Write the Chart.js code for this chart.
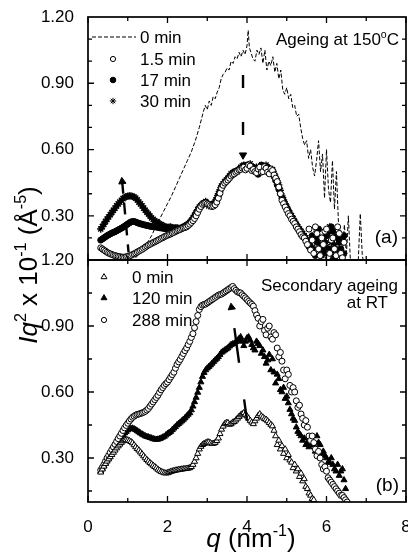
<!DOCTYPE html>
<html>
<head>
<meta charset="utf-8">
<script src="https://cdn.jsdelivr.net/npm/chart.js@4.4.1/dist/chart.umd.min.js"></script>
<style>
  html, body { margin: 0; padding: 0; background: #fff; overflow: hidden; }
  #wrap { position: relative; width: 408px; height: 553px; overflow: hidden; }
  #wrap canvas { position: absolute; left: 0; top: 0; }
</style>
</head>
<body>
<div id="wrap">
  <canvas id="panelB" width="420" height="553"></canvas>
  <canvas id="panelA" width="420" height="553"></canvas>
</div>
<script>
// shared q grid (nm^-1) for the marker series
const qGrid = [
  0.32, 0.36, 0.40, 0.44, 0.48, 0.52, 0.56, 0.60, 0.64, 0.68,
  0.72, 0.76, 0.80, 0.84, 0.88, 0.92, 0.96, 1.00, 1.04, 1.08,
  1.12, 1.16, 1.20, 1.24, 1.28, 1.32, 1.36, 1.40, 1.44, 1.48,
  1.52, 1.56, 1.60, 1.64, 1.68, 1.72, 1.76, 1.80, 1.84, 1.88,
  1.92, 1.96, 2.00, 2.04, 2.08, 2.12, 2.16, 2.20, 2.24, 2.28,
  2.32, 2.36, 2.40, 2.44, 2.48, 2.52, 2.56, 2.60, 2.64, 2.68,
  2.72, 2.76, 2.80, 2.84, 2.88, 2.92, 2.96, 3.00, 3.04, 3.08,
  3.12, 3.16, 3.20, 3.24, 3.28, 3.32, 3.36, 3.40, 3.44, 3.48,
  3.52, 3.56, 3.60, 3.64, 3.68, 3.72, 3.76, 3.80, 3.84, 3.88,
  3.92, 3.96, 4.00, 4.04, 4.08, 4.12, 4.16, 4.20, 4.24, 4.28,
  4.32, 4.36, 4.40, 4.44, 4.48, 4.52, 4.56, 4.60, 4.64, 4.68,
  4.72, 4.76, 4.80, 4.84, 4.88, 4.92, 4.96, 5.00, 5.04, 5.08,
  5.12, 5.16, 5.20, 5.24, 5.28, 5.32, 5.36, 5.40, 5.44, 5.48,
  5.52, 5.56, 5.60, 5.64, 5.68, 5.72, 5.76, 5.80, 5.84, 5.88,
  5.92, 5.96, 6.00, 6.04, 6.08, 6.12, 6.16, 6.20, 6.24, 6.28,
  6.32, 6.36, 6.40, 6.44, 6.48, 6.52
];

// (a) ageing at 150 C
const qA0 = [
  1.10, 1.20, 1.30, 1.40, 1.50, 1.60, 1.70, 1.80, 1.90, 2.00,
  2.10, 2.20, 2.30, 2.40, 2.50, 2.60, 2.70, 2.80, 2.90, 2.95,
  3.00, 3.05, 3.10, 3.15, 3.20, 3.25, 3.30, 3.35, 3.40, 3.45,
  3.50, 3.55, 3.60, 3.65, 3.70, 3.75, 3.80, 3.85, 3.90, 3.95,
  4.00, 4.03, 4.06, 4.10, 4.15, 4.20, 4.25, 4.30, 4.35, 4.40,
  4.45, 4.50, 4.55, 4.60, 4.65, 4.70, 4.75, 4.80, 4.85, 4.90,
  4.95, 5.00, 5.05, 5.10, 5.15, 5.20, 5.25, 5.30, 5.35, 5.40,
  5.45, 5.50, 5.55, 5.60, 5.65, 5.70, 5.75, 5.80, 5.85, 5.90,
  5.95, 6.00, 6.05, 6.10, 6.15, 6.20, 6.25, 6.30, 6.35, 6.40,
  6.45, 6.50, 6.55, 6.60, 6.65, 6.70, 6.75, 6.80, 6.85, 6.90,
  6.95
];
const a0min = [
  0.09, 0.11, 0.13, 0.155, 0.18, 0.21, 0.25, 0.285, 0.32, 0.355,
  0.39, 0.43, 0.47, 0.51, 0.55, 0.59, 0.64, 0.70, 0.77, 0.80,
  0.78, 0.82, 0.80, 0.84, 0.83, 0.86, 0.88, 0.92, 0.94, 0.95,
  0.97, 0.96, 1.00, 0.99, 1.02, 1.01, 1.04, 1.02, 1.05, 1.03,
  1.07, 1.14, 1.06, 1.04, 1.01, 1.00, 1.05, 1.03, 1.06, 0.99,
  1.05, 0.96, 1.00, 0.98, 1.02, 0.95, 0.99, 0.92, 0.96, 0.87,
  0.85, 0.88, 0.83, 0.85, 0.79, 0.80, 0.75, 0.76, 0.70, 0.65,
  0.62, 0.64, 0.56, 0.60, 0.52, 0.48, 0.55, 0.64, 0.50, 0.58,
  0.38, 0.60, 0.42, 0.36, 0.55, 0.33, 0.50, 0.27, 0.24, 0.13,
  0.26, 0.12, 0.30, 0.10, 0.08, 0.08, 0.09, 0.10, 0.31, 0.12,
  0.08
];
const a1p5min = [
  0.155, 0.150, 0.145, 0.140, 0.135, 0.131, 0.128, 0.125, 0.122, 0.120,
  0.118, 0.116, 0.115, 0.113, 0.113, 0.112, 0.115, 0.116, 0.118, 0.121,
  0.125, 0.128, 0.132, 0.136, 0.140, 0.144, 0.148, 0.153, 0.158, 0.163,
  0.168, 0.171, 0.175, 0.179, 0.182, 0.186, 0.190, 0.194, 0.198, 0.201,
  0.205, 0.209, 0.212, 0.215, 0.218, 0.222, 0.225, 0.229, 0.232, 0.236,
  0.238, 0.242, 0.245, 0.247, 0.250, 0.256, 0.262, 0.270, 0.278, 0.288,
  0.300, 0.315, 0.330, 0.342, 0.352, 0.356, 0.358, 0.354, 0.350, 0.345,
  0.342, 0.344, 0.350, 0.362, 0.380, 0.402, 0.425, 0.438, 0.448, 0.455,
  0.462, 0.470, 0.480, 0.486, 0.490, 0.497, 0.502, 0.508, 0.510, 0.516,
  0.520, 0.508, 0.515, 0.530, 0.525, 0.505, 0.510, 0.500, 0.495, 0.512,
  0.520, 0.498, 0.500, 0.522, 0.515, 0.498, 0.490, 0.512, 0.505, 0.485,
  0.470, 0.455, 0.430, 0.400, 0.370, 0.355, 0.340, 0.325, 0.310, 0.300,
  0.285, 0.275, 0.265, 0.250, 0.240, 0.228, 0.215, 0.205, 0.200, 0.185,
  0.170, 0.240, 0.145, 0.190, 0.130, 0.250, 0.220, 0.150, 0.120, 0.200,
  0.170, 0.230, 0.240, 0.115, 0.130, 0.190, 0.200, 0.150, 0.120, 0.250,
  0.220, 0.130, 0.110, 0.180, null, null
];
const a17min = [
  0.190, 0.195, 0.200, 0.205, 0.210, 0.214, 0.218, 0.222, 0.225, 0.228,
  0.232, 0.236, 0.240, 0.244, 0.248, 0.253, 0.258, 0.263, 0.268, 0.272,
  0.274, 0.274, 0.272, 0.269, 0.266, 0.264, 0.262, 0.260, 0.258, 0.256,
  0.255, 0.253, 0.252, 0.251, 0.250, 0.249, 0.248, 0.246, 0.245, 0.244,
  0.243, 0.241, 0.240, 0.241, 0.242, 0.244, 0.245, 0.242, 0.240, 0.241,
  0.243, 0.246, 0.248, 0.251, 0.255, 0.261, 0.268, 0.276, 0.285, 0.297,
  0.310, 0.322, 0.335, 0.346, 0.355, 0.358, 0.360, 0.356, 0.352, 0.348,
  0.345, 0.350, 0.360, 0.374, 0.390, 0.410, 0.430, 0.441, 0.450, 0.459,
  0.468, 0.476, 0.485, 0.490, 0.495, 0.500, 0.505, 0.510, 0.515, 0.520,
  0.525, 0.528, 0.530, 0.520, 0.515, 0.522, 0.520, 0.505, 0.500, 0.488,
  0.510, 0.530, 0.525, 0.512, 0.505, 0.520, 0.510, 0.495, 0.490, 0.478,
  0.460, 0.440, 0.420, 0.400, 0.380, 0.365, 0.350, 0.335, 0.320, 0.305,
  0.290, 0.280, 0.270, 0.258, 0.245, 0.232, 0.220, 0.212, 0.205, 0.192,
  0.180, 0.160, 0.150, 0.210, 0.140, 0.120, 0.180, 0.240, 0.200, 0.160,
  0.130, 0.180, 0.210, 0.120, 0.150, 0.250, 0.230, 0.110, 0.140, 0.200,
  0.180, 0.150, 0.120, 0.210, null, null
];
const a30min = [
  0.240, 0.251, 0.262, 0.274, 0.285, 0.295, 0.305, 0.315, 0.325, 0.335,
  0.345, 0.354, 0.362, 0.370, 0.378, 0.383, 0.387, 0.389, 0.390, 0.390,
  0.388, 0.385, 0.380, 0.372, 0.362, 0.354, 0.345, 0.335, 0.325, 0.316,
  0.308, 0.299, 0.290, 0.284, 0.278, 0.273, 0.268, 0.264, 0.260, 0.256,
  0.252, 0.250, 0.248, 0.249, 0.250, 0.246, 0.243, 0.245, 0.247, 0.243,
  0.240, 0.245, 0.250, 0.254, 0.258, 0.263, 0.270, 0.280, 0.290, 0.302,
  0.315, 0.328, 0.340, 0.345, 0.350, 0.358, 0.365, 0.355, 0.345, 0.348,
  0.350, 0.356, 0.365, 0.382, 0.400, 0.418, 0.435, 0.445, 0.455, 0.462,
  0.470, 0.480, 0.490, 0.495, 0.500, 0.502, 0.500, 0.510, 0.520, 0.525,
  0.530, 0.525, 0.520, 0.528, 0.535, 0.518, 0.505, 0.512, 0.520, 0.508,
  0.500, 0.508, 0.515, 0.522, 0.530, 0.515, 0.500, 0.505, 0.510, 0.492,
  0.475, 0.458, 0.440, 0.415, 0.390, 0.372, 0.355, 0.340, 0.325, 0.312,
  0.300, 0.288, 0.275, 0.262, 0.250, 0.240, 0.230, 0.220, 0.210, 0.200,
  0.190, 0.175, 0.160, 0.155, 0.150, 0.200, 0.230, 0.180, 0.140, 0.120,
  0.200, 0.140, 0.160, 0.220, 0.250, 0.180, 0.130, 0.170, 0.210, 0.140,
  0.150, 0.190, 0.200, 0.130, null, null
];

// (b) secondary ageing at RT
const b0min = [
  0.235, 0.249, 0.262, 0.274, 0.285, 0.295, 0.305, 0.315, 0.325, 0.335,
  0.345, 0.354, 0.362, 0.370, 0.377, 0.381, 0.383, 0.381, 0.378, 0.374,
  0.368, 0.359, 0.350, 0.342, 0.335, 0.326, 0.318, 0.309, 0.300, 0.292,
  0.285, 0.278, 0.272, 0.266, 0.260, 0.254, 0.248, 0.243, 0.238, 0.235,
  0.232, 0.231, 0.232, 0.235, 0.238, 0.240, 0.242, 0.244, 0.245, 0.247,
  0.248, 0.249, 0.250, 0.251, 0.252, 0.253, 0.255, 0.260, 0.270, 0.284,
  0.300, 0.320, 0.340, 0.352, 0.360, 0.365, 0.368, 0.372, 0.372, 0.368,
  0.365, 0.366, 0.370, 0.378, 0.390, 0.410, 0.430, 0.444, 0.455, 0.460,
  0.460, 0.452, 0.455, 0.462, 0.465, 0.472, 0.480, 0.488, 0.495, 0.500,
  0.505, 0.498, 0.490, 0.480, 0.470, 0.462, 0.455, 0.468, 0.480, 0.492,
  0.500, 0.490, 0.485, 0.478, 0.475, 0.468, 0.460, 0.452, 0.445, 0.425,
  0.400, 0.360, 0.380, 0.340, 0.355, 0.320, 0.340, 0.300, 0.315, 0.290,
  0.280, 0.255, 0.270, 0.240, 0.250, 0.215, 0.230, 0.195, 0.205, 0.170,
  0.160, 0.140, 0.130, 0.115, 0.110, null, null, null, null, null,
  null, null, null, null, null, null, null, null, null, null,
  null, null, null, null, null, null
];
const b120min = [
  0.240, 0.252, 0.265, 0.278, 0.290, 0.302, 0.315, 0.328, 0.340, 0.351,
  0.362, 0.374, 0.385, 0.395, 0.405, 0.413, 0.420, 0.427, 0.432, 0.434,
  0.435, 0.432, 0.428, 0.423, 0.418, 0.413, 0.408, 0.404, 0.400, 0.397,
  0.395, 0.392, 0.390, 0.387, 0.385, 0.384, 0.385, 0.387, 0.390, 0.394,
  0.398, 0.404, 0.410, 0.415, 0.420, 0.428, 0.435, 0.442, 0.450, 0.456,
  0.462, 0.468, 0.475, 0.482, 0.490, 0.498, 0.505, 0.518, 0.535, 0.555,
  0.575, 0.598, 0.620, 0.645, 0.670, 0.688, 0.700, 0.708, 0.715, 0.722,
  0.730, 0.738, 0.745, 0.752, 0.760, 0.770, 0.780, 0.785, 0.790, 0.795,
  0.800, 0.808, 0.815, 0.818, 0.820, 0.828, 0.835, 0.842, 0.850, 0.830,
  0.810, 0.830, 0.845, 0.850, 0.835, 0.815, 0.800, 0.790, 0.830, 0.820,
  0.810, 0.775, 0.790, 0.760, 0.730, 0.745, 0.770, 0.700, 0.750, 0.690,
  0.640, 0.680, 0.660, 0.610, 0.600, 0.620, 0.570, 0.580, 0.550, 0.520,
  0.500, 0.480, 0.470, 0.440, 0.420, 0.410, 0.400, 0.380, 0.390, 0.360,
  0.370, 0.350, 0.380, 0.360, 0.360, 0.330, 0.400, 0.370, 0.360, 0.320,
  0.330, 0.310, 0.300, 0.280, 0.280, 0.300, 0.270, 0.250, 0.240, 0.270,
  0.220, 0.240, 0.250, 0.200, 0.160, null
];
const b288min = [
  0.245, 0.257, 0.270, 0.285, 0.300, 0.312, 0.325, 0.338, 0.350, 0.362,
  0.375, 0.388, 0.400, 0.412, 0.425, 0.437, 0.448, 0.458, 0.468, 0.477,
  0.485, 0.490, 0.495, 0.498, 0.500, 0.502, 0.505, 0.508, 0.512, 0.518,
  0.525, 0.535, 0.545, 0.555, 0.565, 0.575, 0.585, 0.598, 0.610, 0.620,
  0.630, 0.638, 0.645, 0.656, 0.668, 0.679, 0.690, 0.708, 0.725, 0.737,
  0.748, 0.762, 0.775, 0.788, 0.800, 0.815, 0.830, 0.848, 0.865, 0.892,
  0.920, 0.948, 0.975, 0.988, 0.995, 0.998, 1.000, 1.005, 1.010, 1.015,
  1.020, 1.025, 1.030, 1.035, 1.040, 1.043, 1.045, 1.050, 1.055, 1.060,
  1.065, 1.070, 1.075, 1.080, 1.070, 1.062, 1.055, 1.052, 1.050, 1.042,
  1.035, 1.028, 1.020, 1.012, 1.005, 0.998, 0.990, 0.970, 0.950, 0.935,
  0.900, 0.920, 0.930, 0.880, 0.860, 0.890, 0.900, 0.850, 0.840, 0.870,
  0.860, 0.800, 0.760, 0.780, 0.740, 0.700, 0.660, 0.700, 0.680, 0.630,
  0.600, 0.620, 0.600, 0.560, 0.530, 0.540, 0.500, 0.480, 0.450, 0.470,
  0.440, 0.400, 0.380, 0.400, 0.370, 0.340, 0.310, 0.330, 0.300, 0.270,
  0.250, 0.260, 0.240, 0.210, 0.200, 0.190, 0.180, 0.170, 0.160, 0.150,
  0.140, 0.130, 0.130, 0.120, 0.110, 0.100
];

// guide arrows, [tip, tail] in data units
const arrowA1 = [[0.86, 0.455], [1.02, 0.135]];
const arrowA2 = [[3.90, 0.575], [3.90, 0.94]];
const arrowB = [[3.61, 0.985], [4.00, 0.47]];

const yLabels = [0.3, 0.6, 0.9, 1.2];
const xLabels = [0, 2, 4, 6, 8];
const xMarks = [0, 1, 2, 3, 4, 5, 6, 7, 8];
const yMarksA = [0.2, 0.3, 0.4, 0.5, 0.6, 0.7, 0.8, 0.9, 1.0, 1.1];
const yMarksB = [0.15, 0.3, 0.45, 0.6, 0.75, 0.9, 1.05];

const FONT = "Arial, 'Liberation Sans', Helvetica, sans-serif";
Chart.defaults.font.family = FONT;
Chart.defaults.color = '#000';

const pts = (xs, ys) => xs.map((x, i) => ({ x, y: ys[i] })).filter(p => p.y !== null);

const markers = (label, ys, style, fill, radius, order, bw = 1) => ({
  label, data: pts(qGrid, ys), showLine: false, order,
  pointStyle: style, pointRadius: radius, pointBorderWidth: bw,
  pointBorderColor: '#000', pointBackgroundColor: fill
});

const arrow = (pair, rot, dash, offset, order) => ({
  data: pair.map(p => ({ x: p[0], y: p[1] })), showLine: true, order,
  borderColor: '#000', borderWidth: 2.4, borderDash: dash, borderDashOffset: offset,
  borderCapStyle: 'butt', pointStyle: 'triangle', pointRadius: [4.2, 0],
  pointRotation: [rot, 0], pointBackgroundColor: '#000', pointBorderColor: '#000',
  pointBorderWidth: 1
});

const near = (v, list) => list.some(t => Math.abs(t - v) < 1e-6);

const framePlugin = {
  id: 'frame',
  afterDatasetsDraw(chart, args, opts) {
    const { ctx, chartArea: a } = chart;
    const x = chart.scales.x, y = chart.scales.y;
    ctx.save();
    ctx.strokeStyle = '#000';
    ctx.lineWidth = 1.3;
    ctx.beginPath();
    xMarks.forEach(v => {
      const px = x.getPixelForValue(v);
      const len = near(v, xLabels) ? 6 : 4;
      ctx.moveTo(px, a.bottom); ctx.lineTo(px, a.bottom - len);
      ctx.moveTo(px, a.top); ctx.lineTo(px, a.top + len);
    });
    opts.yMarks.forEach(v => {
      const py = y.getPixelForValue(v);
      const len = near(v, yLabels) ? 6 : 4;
      ctx.moveTo(a.left, py); ctx.lineTo(a.left + len, py);
      ctx.moveTo(a.right, py); ctx.lineTo(a.right - len, py);
    });
    ctx.stroke();
    ctx.lineWidth = 1.7;
    ctx.strokeRect(a.left, a.top, a.right - a.left, a.bottom - a.top);
    ctx.restore();
  }
};

function setFont(ctx, p, size) {
  const s = p.sup ? size * 0.62 : size;
  ctx.font = (p.it ? 'italic ' : '') + s + 'px ' + FONT;
}

function richText(ctx, parts, x, y, size, align) {
  let w = 0;
  parts.forEach(p => { setFont(ctx, p, size); w += ctx.measureText(p.t).width; });
  let cx = align === 'right' ? x - w : align === 'center' ? x - w / 2 : x;
  ctx.textAlign = 'left';
  ctx.textBaseline = 'alphabetic';
  parts.forEach(p => {
    setFont(ctx, p, size);
    ctx.fillText(p.t, cx, p.sup ? y - size * 0.42 : y);
    cx += ctx.measureText(p.t).width;
  });
}

const textPlugin = {
  id: 'texts',
  afterDraw(chart, args, opts) {
    const ctx = chart.ctx;
    ctx.save();
    ctx.fillStyle = '#000';
    ctx.strokeStyle = '#000';
    opts.legend.forEach(item => {
      const ds = chart.data.datasets[item.ds];
      if (ds.showLine) {
        ctx.lineWidth = ds.borderWidth;
        ctx.setLineDash(ds.borderDash || []);
        ctx.beginPath();
        ctx.moveTo(opts.lineFrom, item.y);
        ctx.lineTo(opts.lineTo, item.y);
        ctx.stroke();
        ctx.setLineDash([]);
      } else {
        ctx.lineWidth = 1;
        ctx.fillStyle = ds.pointBackgroundColor;
        Chart.helpers.drawPoint(ctx, {
          pointStyle: ds.pointStyle, radius: item.r, rotation: 0, borderWidth: 1
        }, opts.markerX, item.y);
        ctx.fillStyle = '#000';
      }
      richText(ctx, [{ t: ds.label }], opts.textX, item.y + 6, 17, 'left');
    });
    opts.notes.forEach(n => {
      if (n.rotate) {
        ctx.save();
        ctx.translate(n.x, n.y);
        ctx.rotate(-Math.PI / 2);
        richText(ctx, n.parts, 0, 0, n.size, n.align);
        ctx.restore();
      } else {
        richText(ctx, n.parts, n.x, n.y, n.size, n.align);
      }
    });
    ctx.restore();
  }
};

const yScale = {
  type: 'linear', min: 0.1, max: 1.2,
  grid: { display: false }, border: { display: false },
  afterBuildTicks: s => { s.ticks = yLabels.map(v => ({ value: v })); },
  ticks: { font: { size: 17 }, padding: 6, color: '#000', callback: v => v.toFixed(2) },
  afterFit: s => { s.width = 88; }
};

const baseOptions = {
  animation: false, responsive: false, events: [],
  plugins: { legend: { display: false }, tooltip: { enabled: false } }
};

new Chart(document.getElementById('panelA'), {
  type: 'scatter',
  data: {
    datasets: [
      markers('1.5 min', a1p5min, 'circle', '#fff', 3, 0),
      markers('17 min', a17min, 'circle', '#000', 3, 1),
      markers('30 min', a30min, 'star', '#000', 3.6, 2, 1.4),
      { label: '0 min', data: pts(qA0, a0min), showLine: true, order: 4, pointRadius: 0,
        borderColor: '#000', borderWidth: 1, borderDash: [4, 2] },
      arrow(arrowA1, -6, [12, 9], 0, 3),
      arrow(arrowA2, 180, [13, 34], 27, 3)
    ]
  },
  options: {
    ...baseOptions,
    layout: { padding: { top: 17, right: 14, bottom: 293, left: 0 } },
    scales: {
      x: { type: 'linear', min: 0, max: 8, display: false },
      y: yScale
    },
    plugins: {
      ...baseOptions.plugins,
      frame: { yMarks: yMarksA },
      texts: {
        markerX: 113, textX: 140, lineFrom: 92, lineTo: 136,
        legend: [{ ds: 3, y: 37 }, { ds: 0, y: 59, r: 2.6 }, { ds: 1, y: 80, r: 2.8 }, { ds: 2, y: 101, r: 3.2 }],
        notes: [
          { parts: [{ t: 'Ageing at 150' }, { t: 'o', sup: true }, { t: 'C' }], x: 399, y: 45, size: 17, align: 'right' },
          { parts: [{ t: '(a)' }], x: 398, y: 243, size: 19, align: 'right' }
        ]
      }
    }
  },
  plugins: [framePlugin, textPlugin]
});

new Chart(document.getElementById('panelB'), {
  type: 'scatter',
  data: {
    datasets: [
      markers('0 min', b0min, 'triangle', '#fff', 3.5, 1),
      markers('120 min', b120min, 'triangle', '#000', 3.5, 2),
      markers('288 min', b288min, 'circle', '#fff', 3, 1),
      arrow(arrowB, -8, [35, 37], 51, 0)
    ]
  },
  options: {
    ...baseOptions,
    layout: { padding: { top: 260, right: 14, bottom: 0, left: 0 } },
    scales: {
      x: {
        type: 'linear', min: 0, max: 8,
        grid: { display: false }, border: { display: false },
        afterBuildTicks: s => { s.ticks = xLabels.map(v => ({ value: v })); },
        ticks: { font: { size: 17 }, padding: 7, color: '#000', maxRotation: 0 },
        afterFit: s => { s.height = 51; s.paddingRight = 0; s.paddingLeft = 0; }
      },
      y: yScale
    },
    plugins: {
      ...baseOptions.plugins,
      frame: { yMarks: yMarksB },
      texts: {
        markerX: 104, textX: 132,
        legend: [{ ds: 0, y: 277, r: 3.4 }, { ds: 1, y: 298, r: 3.4 }, { ds: 2, y: 320, r: 2.6 }],
        notes: [
          { parts: [{ t: 'Secondary ageing' }], x: 398, y: 291, size: 17, align: 'right' },
          { parts: [{ t: 'at RT' }], x: 388, y: 308, size: 17, align: 'right' },
          { parts: [{ t: '(b)' }], x: 399, y: 491, size: 19, align: 'right' },
          { parts: [{ t: 'q', it: true }, { t: ' (nm' }, { t: '-1', sup: true }, { t: ')' }], x: 251, y: 547, size: 26, align: 'center' },
          { parts: [{ t: 'Iq', it: true }, { t: '2', sup: true }, { t: ' x 10' }, { t: '-1', sup: true }, { t: ' (\u00C5' }, { t: '-5', sup: true }, { t: ')' }],
            x: 37, y: 265, size: 26, align: 'center', rotate: true }
        ]
      }
    }
  },
  plugins: [framePlugin, textPlugin]
});
</script>
</body>
</html>
